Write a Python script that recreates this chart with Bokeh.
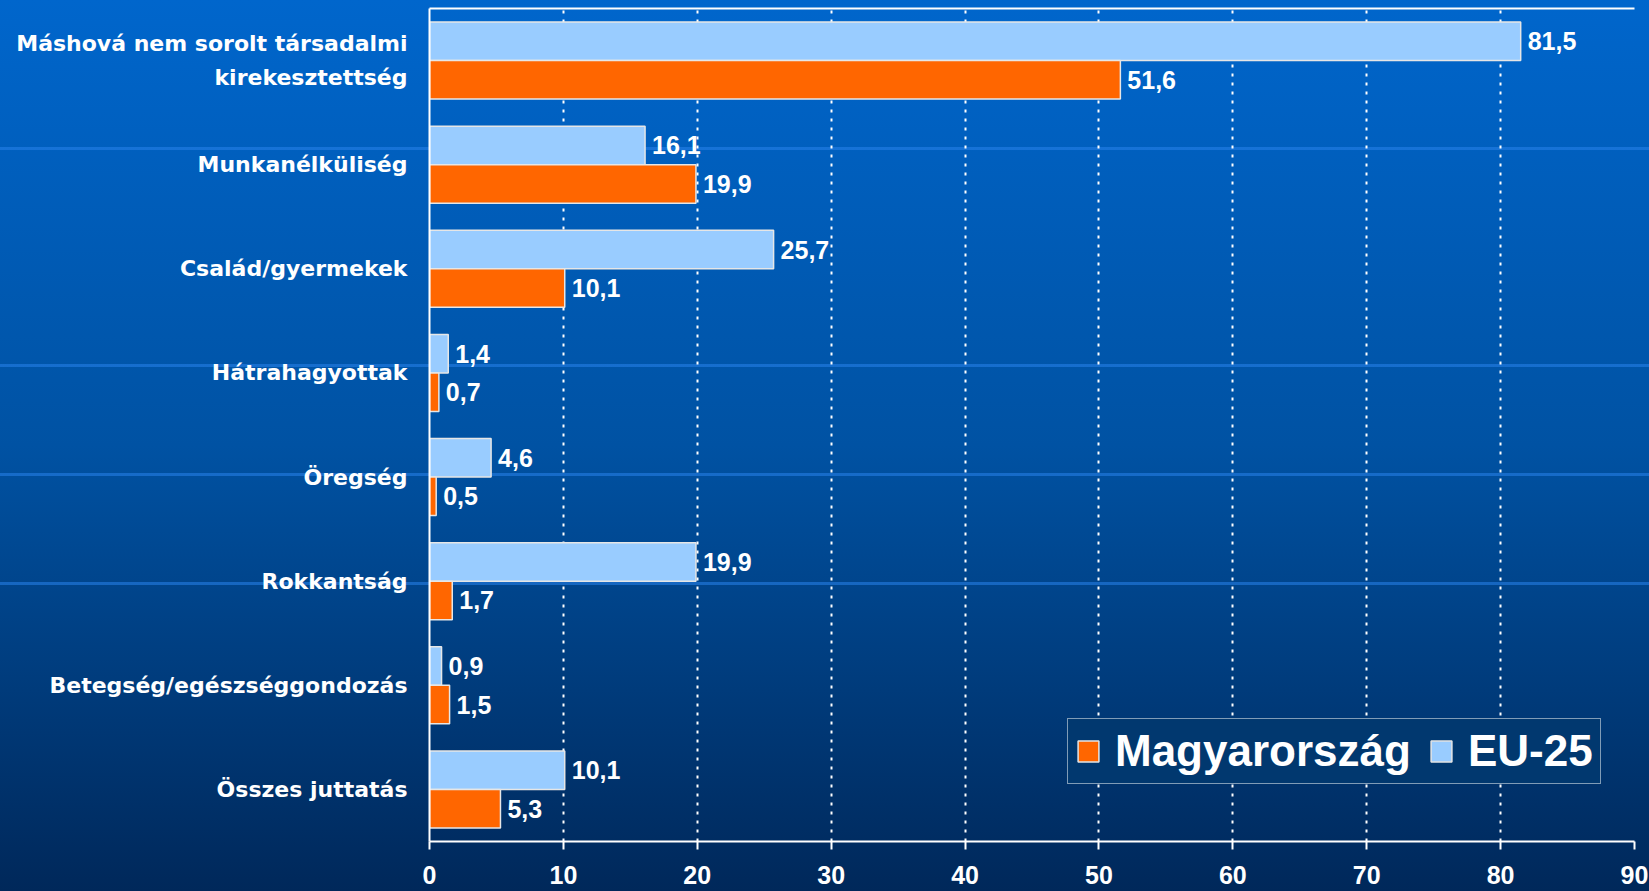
from bokeh.plotting import figure
from bokeh.models import FactorRange, ColumnDataSource, Legend, LegendItem, LinearAxis, FixedTicker
from bokeh.transform import dodge
from bokeh.core.properties import value
from bokeh.embed import file_html
from bokeh.resources import INLINE

categories = [
    "Máshová nem sorolt társadalmi\nkirekesztettség",
    "Munkanélküliség",
    "Család/gyermekek",
    "Hátrahagyottak",
    "Öregség",
    "Rokkantság",
    "Betegség/egészséggondozás",
    "Összes juttatás",
]
eu25 = [81.5, 16.1, 25.7, 1.4, 4.6, 19.9, 0.9, 10.1]
magyarorszag = [51.6, 19.9, 10.1, 0.7, 0.5, 1.7, 1.5, 5.3]
x_ticks = [0, 10, 20, 30, 40, 50, 60, 70, 80, 90]

FONT = "Liberation Sans"
CAT_FONT = "DejaVu Sans"

def fmt(v):
    return f"{v:.1f}".replace(".", ",")

src = ColumnDataSource(dict(
    cat=categories,
    eu=eu25,
    hu=magyarorszag,
    eu_lbl=[fmt(v) for v in eu25],
    hu_lbl=[fmt(v) for v in magyarorszag],
))

p = figure(
    width=1649, height=891,
    y_range=FactorRange(factors=list(reversed(categories)), range_padding=0),
    x_range=(0, 90),
    output_backend="svg", toolbar_location=None,
    min_border_left=429, min_border_right=15, min_border_top=8, min_border_bottom=50,
)
line_col = "rgba(40,130,235,0.55)"
bands = [148, 365, 474, 583]
grads = [f"linear-gradient(to bottom, transparent {y-1}px, {line_col} {y-1}px, {line_col} {y+2}px, transparent {y+2}px)" for y in bands]
grads.append("linear-gradient(to bottom, #0066CC 0%, #0052A3 50%, #00285A 100%)")
p.styles = {"background-image": ", ".join(grads)}
p.border_fill_color = None
p.background_fill_color = None
p.outline_line_color = None

bar_h = 0.37
off = bar_h / 2
r_eu = p.hbar(y=dodge("cat", off, range=p.y_range), right="eu", left=0, height=bar_h,
              source=src, fill_color="#99CCFF", line_color="#E6E6E6", line_width=1.5)
r_hu = p.hbar(y=dodge("cat", -off, range=p.y_range), right="hu", left=0, height=bar_h,
              source=src, fill_color="#FF6600", line_color="#E6E6E6", line_width=1.5)

p.text(x="eu", y=dodge("cat", off, range=p.y_range), text="eu_lbl", source=src,
       x_offset=7, text_baseline="middle", text_align="left", text_color="white",
       text_font=value(FONT), text_font_style="bold", text_font_size="25px")
p.text(x="hu", y=dodge("cat", -off, range=p.y_range), text="hu_lbl", source=src,
       x_offset=7, text_baseline="middle", text_align="left", text_color="white",
       text_font=value(FONT), text_font_style="bold", text_font_size="25px")

# grid
p.ygrid.grid_line_color = None
p.xgrid.ticker = FixedTicker(ticks=x_ticks)
p.xgrid.grid_line_color = "white"
p.xgrid.grid_line_width = 2
p.xgrid.grid_line_dash = "3 6"

# x axis
xa = p.xaxis[0]
xa.ticker = FixedTicker(ticks=x_ticks)
xa.axis_line_color = "white"
xa.axis_line_width = 2
xa.major_tick_line_color = "white"
xa.major_tick_line_width = 2
xa.major_tick_out = 8
xa.major_tick_in = 0
xa.minor_tick_line_color = None
xa.major_label_standoff = 16
xa.major_label_text_color = "white"
xa.major_label_text_font = FONT
xa.major_label_text_font_style = "bold"
xa.major_label_text_font_size = "25px"

# y axis
ya = p.yaxis[0]
ya.axis_line_color = "white"
ya.axis_line_width = 2
ya.major_tick_line_color = None
ya.major_tick_out = 0
ya.major_tick_in = 0
ya.major_label_standoff = 22
ya.major_label_text_color = "white"
ya.major_label_text_font = CAT_FONT
ya.major_label_text_font_style = "bold"
ya.major_label_text_font_size = "22px"
ya.major_label_text_line_height = 1.35

# top border line
top = LinearAxis(ticker=FixedTicker(ticks=[]), axis_line_color="white", axis_line_width=2,
                 major_tick_line_color=None, minor_tick_line_color=None,
                 major_tick_out=0, major_tick_in=0, major_label_standoff=0)
p.add_layout(top, "above")

legend = Legend(
    items=[LegendItem(label="Magyarország", renderers=[r_hu]),
           LegendItem(label="EU-25", renderers=[r_eu])],
    orientation="horizontal",
    location=(638, 57),
    label_text_color="white",
    label_text_font=FONT,
    label_text_font_style="bold",
    label_text_font_size="44px",
    glyph_width=26, glyph_height=26,
    label_standoff=14,
    spacing=17,
    padding=7,
    margin=0,
    background_fill_color="#01386F",
    background_fill_alpha=1,
    border_line_color="white",
    border_line_width=1.5,
)
p.add_layout(legend, "center")

open("out.html", "w").write(file_html(p, INLINE))
